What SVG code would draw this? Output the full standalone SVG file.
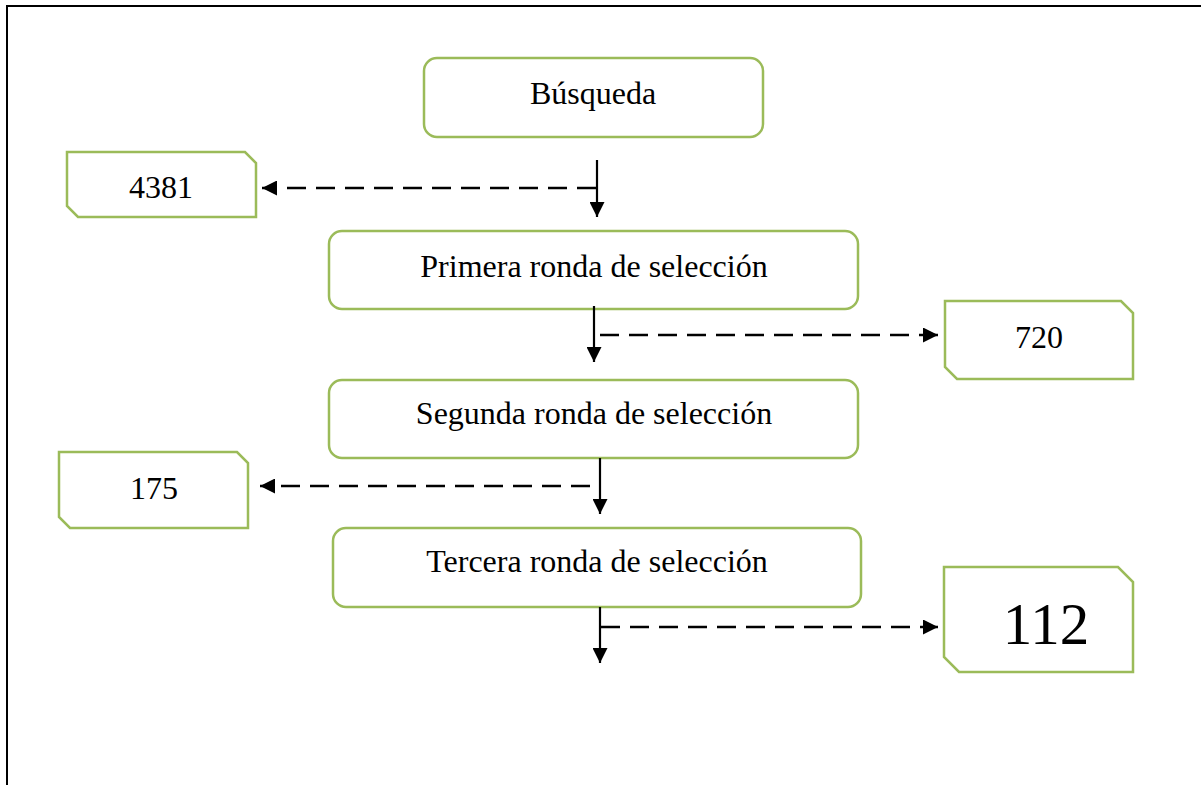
<svg xmlns="http://www.w3.org/2000/svg" width="1201" height="785" viewBox="0 0 1201 785">
<style>
.box{fill:#fff;stroke:#9BBB59;stroke-width:2.5}
.t{font-family:"Liberation Serif","Times New Roman",serif;font-size:32px;fill:#000;text-anchor:middle}
.solid{stroke:#000;stroke-width:2.2;fill:none}
.dash{stroke:#000;stroke-width:2.5;fill:none;stroke-dasharray:19 10}
</style>
<defs>
<marker id="ah" viewBox="0 0 10 10" refX="10" refY="5" markerWidth="15" markerHeight="15" markerUnits="userSpaceOnUse" orient="auto">
<path d="M0,0 L10,5 L0,10 z" fill="#000"/>
</marker>
</defs>
<rect width="1201" height="785" fill="#fff"/>
<path d="M7,785 V6 H1201" fill="none" stroke="#000" stroke-width="2"/>
<g id="n-busqueda"><rect class="box" x="424" y="58" width="339" height="79" rx="13"/><text class="t" x="593" y="104">Búsqueda</text></g>
<g id="n-4381"><path class="box" d="M67,152 H245 L256,163 V217 H78 L67,206 Z"/><text class="t" x="161" y="198">4381</text></g>
<g id="n-primera"><rect class="box" x="329" y="231" width="529" height="78" rx="13"/><text class="t" x="594" y="277">Primera ronda de selección</text></g>
<g id="n-720"><path class="box" d="M945,301 H1121 L1133,313 V379 H957 L945,367 Z"/><text class="t" x="1039" y="348">720</text></g>
<g id="n-segunda"><rect class="box" x="329" y="380" width="529" height="78" rx="13"/><text class="t" x="594" y="424">Segunda ronda de selección</text></g>
<g id="n-175"><path class="box" d="M59,452 H237 L248,463 V528 H70 L59,517 Z"/><text class="t" x="154" y="499">175</text></g>
<g id="n-tercera"><rect class="box" x="333" y="528" width="528" height="79" rx="13"/><text class="t" x="597" y="572">Tercera ronda de selección</text></g>
<g id="n-112"><path class="box" d="M944,567 H1118 L1133,582 V672 H959 L944,657 Z"/><text class="t" x="1046" y="644" style="font-size:59px">112</text></g>
<g id="connectors">
<line class="solid" x1="597" y1="160" x2="597" y2="217" marker-end="url(#ah)"/>
<line class="dash" x1="596" y1="188" x2="262" y2="188" marker-end="url(#ah)"/>
<line class="solid" x1="594" y1="306" x2="594" y2="362" marker-end="url(#ah)"/>
<line class="dash" x1="600" y1="335" x2="938" y2="335" marker-end="url(#ah)"/>
<line class="solid" x1="600" y1="458" x2="600" y2="514" marker-end="url(#ah)"/>
<line class="dash" x1="590" y1="486" x2="260" y2="486" marker-end="url(#ah)"/>
<line class="solid" x1="600" y1="607" x2="600" y2="663" marker-end="url(#ah)"/>
<line class="dash" x1="601" y1="627" x2="938" y2="627" marker-end="url(#ah)"/>
</g>
</svg>
